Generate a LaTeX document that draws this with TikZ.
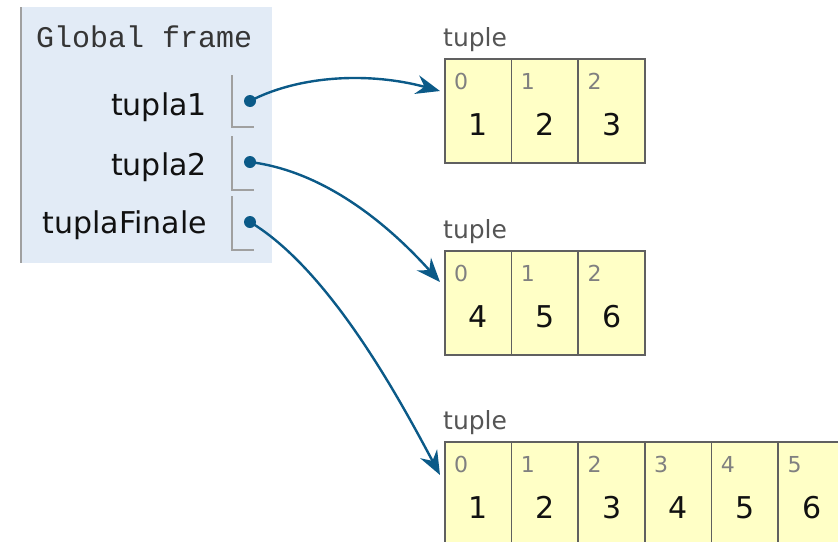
\documentclass[tikz,border=0pt]{standalone}
\usepackage{fontspec}
\setmainfont{DejaVu Sans}
\setmonofont{Liberation Mono}
\usetikzlibrary{arrows.meta}
\definecolor{framebg}{HTML}{E2EBF6}
\definecolor{frameedge}{HTML}{A0A0A0}
\definecolor{slotgray}{HTML}{A0A0A0}
\definecolor{cellfill}{HTML}{FFFFC6}
\definecolor{cellborder}{HTML}{606060}
\definecolor{idxgray}{HTML}{808080}
\definecolor{labelgray}{HTML}{555555}
\definecolor{ptr}{HTML}{0B5A88}
\definecolor{txt}{HTML}{111111}
\tikzset{
  cell/.style={draw=cellborder, fill=cellfill, line width=1.8pt, minimum width=66.67pt, minimum height=104pt, inner sep=0pt, anchor=north west},
  idx/.style={font=\fontsize{22}{24}\selectfont, text=idxgray, anchor=base west, inner sep=0pt},
  val/.style={font=\fontsize{30}{32}\selectfont, text=txt, anchor=base, inner sep=0pt},
  tlabel/.style={font=\fontsize{25}{27}\selectfont, text=labelgray, anchor=base west, inner sep=0pt},
  varname/.style={font=\fontsize{30}{32}\selectfont, text=txt, anchor=base east, inner sep=0pt},
  dotnode/.style={circle, fill=ptr, inner sep=0pt, minimum size=12pt},
  ptrarrow/.style={draw=ptr, line width=2.4pt, -{Stealth[length=24pt,width=19pt,inset=8pt]}},
  slotline/.style={draw=slotgray, line width=1.6pt}
}
\begin{document}
\begin{tikzpicture}[x=1pt,y=-1pt]
\clip (0,0) rectangle (838,541);
\fill[white] (0,0) rectangle (838,541);
% frame
\node[fill=framebg, minimum width=251pt, minimum height=256pt, inner sep=0pt, anchor=north west] (frame) at (21,7) {};
\draw[frameedge, line width=2pt] (frame.north west) -- (frame.south west);
\node[font=\ttfamily\fontsize{30}{32}\selectfont, text=txt!85!white, anchor=base west, inner sep=0pt] (title) at (36,47) {Global frame};
% variables
\node[varname] (v1) at (207,115) {tupla1};
\node[varname] (v2) at (207,175) {tupla2};
\node[varname] (v3) at (207,233) {tuplaFinale};
\draw[slotline] (232,75) -- (232,127) -- (254,127);
\draw[slotline] (232,136) -- (232,190) -- (254,190);
\draw[slotline] (232,196) -- (232,250) -- (254,250);
\node[dotnode] (d1) at (250,101) {};
\node[dotnode] (d2) at (250,162) {};
\node[dotnode] (d3) at (250,222) {};
% tuple 1
\node[tlabel] (l1) at (443,46) {tuple};
\foreach \i/\v in {0/1,1/2,2/3}{
  \node[cell] (ta\i) at ({444+\i*66.67},58) {};
  \node[idx] (ta\i i) at ([xshift=10pt,yshift=-31pt]ta\i.north west) {\i};
  \node[val] (ta\i v) at ([yshift=-77pt]ta\i.north) {\v};
}
% tuple 2
\node[tlabel] (l2) at (443,238) {tuple};
\foreach \i/\v in {0/4,1/5,2/6}{
  \node[cell] (tb\i) at ({444+\i*66.67},250) {};
  \node[idx] (tb\i i) at ([xshift=10pt,yshift=-31pt]tb\i.north west) {\i};
  \node[val] (tb\i v) at ([yshift=-77pt]tb\i.north) {\v};
}
% tuple 3
\node[tlabel] (l3) at (443,429) {tuple};
\foreach \i/\v in {0/1,1/2,2/3,3/4,4/5,5/6}{
  \node[cell] (tc\i) at ({444+\i*66.67},441) {};
  \node[idx] (tc\i i) at ([xshift=10pt,yshift=-31pt]tc\i.north west) {\i};
  \node[val] (tc\i v) at ([yshift=-77pt]tc\i.north) {\v};
}
% pointers
\coordinate (e1) at ([xshift=-4pt,yshift=-33pt]ta0.north west);
\coordinate (e2) at ([xshift=-4pt,yshift=-32pt]tb0.north west);
\coordinate (e3) at ([xshift=-4pt,yshift=-34pt]tc0.north west);
\draw[ptrarrow] (d1.center) .. controls (300,75) and (370,72) .. (e1);
\draw[ptrarrow] (d2.center) .. controls (330,172) and (395,232) .. (e2);
\draw[ptrarrow] (d3.center) .. controls (330,270) and (400,400) .. (e3);
\end{tikzpicture}
\end{document}
